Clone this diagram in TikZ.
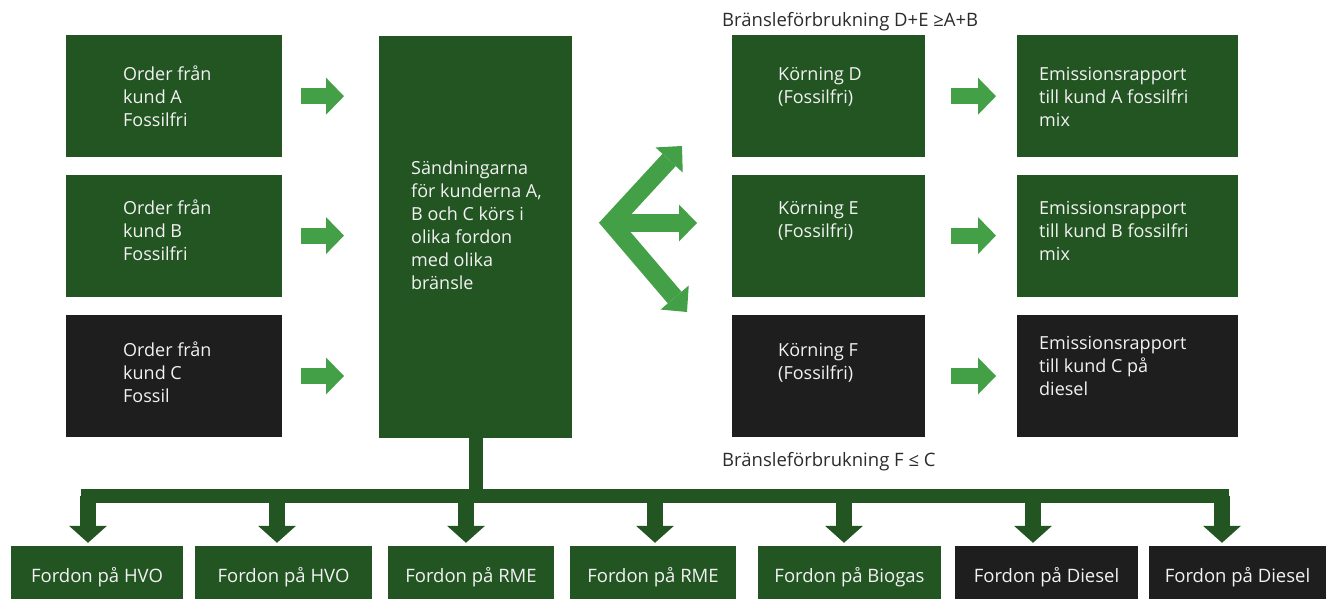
\documentclass[tikz,border=0pt]{standalone}
\usepackage{fontspec}
\setmainfont{Open Sans}
\usetikzlibrary{arrows.meta, positioning}

\definecolor{darkgreen}{HTML}{235523}
\definecolor{lightgreen}{HTML}{43A047}
\definecolor{coal}{HTML}{1E1E1E}
\definecolor{ink}{HTML}{2B2B2B}

\tikzset{
	panel/.style={fill=darkgreen, inner sep=0pt, anchor=north west},
	caption/.style={text=white!95!black, align=left, inner sep=0pt, anchor=base west, font=\fontsize{18}{23}\selectfont},
	note/.style={text=ink, inner sep=0pt, anchor=base west, font=\fontsize{18.5}{23}\selectfont},
	push/.style={draw=lightgreen, line width=16pt, -{Triangle[length=18pt, width=37pt, line width=0pt]}},
	fan/.style={draw=lightgreen, line width=18pt, line join=miter, {Triangle[length=19pt, width=37pt, line width=0pt]}-{Triangle[length=19pt, width=37pt, line width=0pt]}},
	feed/.style={draw=darkgreen, line width=14pt},
	drop/.style={draw=darkgreen, line width=16pt, shorten >=3pt, -{Triangle[length=17pt, width=38pt, line width=0pt]}},
	fordon/.style={text=white!95!black, inner sep=0pt, minimum height=53pt, text height=19pt, text depth=0pt, font=\fontsize{18.5}{20}\selectfont}
}

\begin{document}
\begin{tikzpicture}[x=1pt, y=-1pt]
	\useasboundingbox (0,0) rectangle (1326,599);

	\node[panel, minimum width=216pt, minimum height=122pt] (ordA) at (66,35) {};
	\node[panel, minimum width=216pt, minimum height=122pt, below=17pt of ordA] (ordB) {};
	\node[panel, fill=coal, minimum width=216pt, minimum height=122pt, below=18pt of ordB] (ordC) {};
	\node[panel, minimum width=193pt, minimum height=402pt] (send) at (379,36) {};
	\node[panel, minimum width=193pt, minimum height=122pt] (korD) at (732,35) {};
	\node[panel, minimum width=193pt, minimum height=122pt, below=17pt of korD] (korE) {};
	\node[panel, fill=coal, minimum width=193pt, minimum height=122pt, below=18pt of korE] (korF) {};
	\node[panel, minimum width=221pt, minimum height=122pt] (repA) at (1017,35) {};
	\node[panel, minimum width=221pt, minimum height=122pt, below=17pt of repA] (repB) {};
	\node[panel, fill=coal, minimum width=221pt, minimum height=122pt, below=18pt of repB] (repC) {};

	\node[caption] (ordAtxt) at ([shift={(57,92)}]ordA.north west) {Order från\\kund A\\Fossilfri};
	\node[caption] (ordBtxt) at ([shift={(57,86)}]ordB.north west) {Order från\\kund B\\Fossilfri};
	\node[caption] (ordCtxt) at ([shift={(57,88)}]ordC.north west) {Order från\\kund C\\Fossil};
	\node[caption] (sendtxt) at ([shift={(32,253)}]send.north west) {Sändningarna\\för kunderna A,\\B och C körs i\\olika fordon\\med olika\\bränsle};
	\node[caption] (korDtxt) at ([shift={(46,69)}]korD.north west) {Körning D\\(Fossilfri)};
	\node[caption] (korEtxt) at ([shift={(46,63)}]korE.north west) {Körning E\\(Fossilfri)};
	\node[caption] (korFtxt) at ([shift={(46,65)}]korF.north west) {Körning F\\(Fossilfri)};
	\node[caption] (repAtxt) at ([shift={(22,92)}]repA.north west) {Emissionsrapport\\till kund A fossilfri\\mix};
	\node[caption] (repBtxt) at ([shift={(22,86)}]repB.north west) {Emissionsrapport\\till kund B fossilfri\\mix};
	\node[caption] (repCtxt) at ([shift={(22,81)}]repC.north west) {Emissionsrapport\\till kund C på\\diesel};

	\node[note] (topnote) at ([shift={(-10,-8)}]korD.north west) {Bränsleförbrukning D+E ≥A+B};
	\node[note] (lownote) at ([shift={(-10,29)}]korF.south west) {Bränsleförbrukning F ≤ C};

	\foreach \o in {A,B,C}
		\draw[push, shorten <=19pt, shorten >=35pt] (ord\o.east) -- (ord\o.east -| send.west);
	\foreach \o/\r in {D/A,E/B,F/C}
		\draw[push, shorten <=26pt, shorten >=21pt] (kor\o.east) -- (kor\o.east -| rep\r.west);

	\coordinate (fan) at (611,223);
	\coordinate (fanD) at (682,146);
	\coordinate (fanE) at (697,223);
	\coordinate (fanF) at (687,312);
	\draw[fan] (fanD) -- (fan) -- (fanF);
	\draw[push, line width=18pt] (fan) -- (fanE);

	\foreach \k/\l/\r/\c/\t in {1/11/183/darkgreen/HVO, 2/195/372/darkgreen/HVO, 3/388/554/darkgreen/RME, 4/570/736/darkgreen/RME, 5/758/941/darkgreen/Biogas, 6/955/1138/coal/Diesel, 7/1149/1326/coal/Diesel}{
		\node[fordon, fill=\c, minimum width=\r-\l] (f\k) at ({(\l+\r)/2},572.5) {Fordon på \t};
		\coordinate (d\k) at ({88+189*(\k-1)},495.5);
	}
	\draw[feed] (send.south) -- (send.south |- d1);
	\draw[feed, line cap=rect] (d1) -- (d7);
	\foreach \k in {1,...,7}
		\draw[drop] (d\k) -- (d\k |- f\k.north);
\end{tikzpicture}
\end{document}
